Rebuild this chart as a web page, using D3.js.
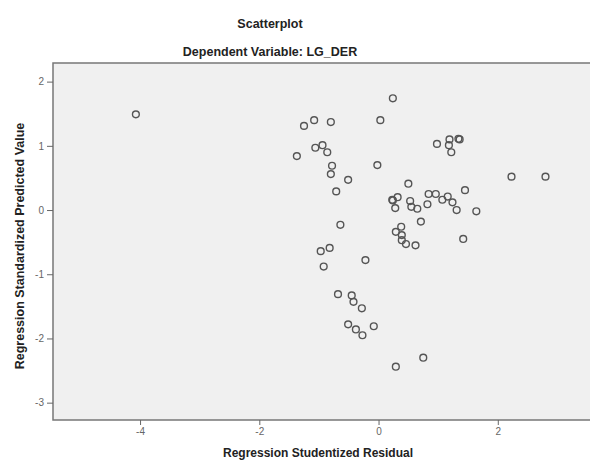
<!DOCTYPE html>
<html>
<head>
<meta charset="utf-8">
<script src="https://cdn.jsdelivr.net/npm/d3@7"></script>
<style>
  html, body { margin: 0; padding: 0; background: #fff; }
  svg { display: block; }
</style>
</head>
<body>
<div id="chart"></div>
<script>
const title = "Scatterplot";
const subtitle = "Dependent Variable: LG_DER";
const xLabel = "Regression Studentized Residual";
const yLabel = "Regression Standardized Predicted Value";
const xTicks = [-4, -2, 0, 2];
const yTicks = [2, 1, 0, -1, -2, -3];

// Regression Studentized Residual
const residuals = [
  -4.07, -1.25, -1.08, -0.80, 0.03, 0.24, -1.37, -1.06, -0.94, -0.86,
  -0.78, -0.80, -0.51, -0.71, -0.02, 0.98, 1.19, 1.34, 1.36, 1.18,
  1.22, 2.23, 2.80, 0.50, 1.45, 0.23, 0.24, 0.32, 0.28, 0.53,
  0.55, 0.65, 0.82, 0.84, 0.96, 1.07, 1.16, 1.24, 1.31, 1.64,
  0.71, -0.64, 0.38, 0.29, 0.39, 0.39, 0.46, 0.62, 1.42, -0.97,
  -0.82, -0.92, -0.22, -0.68, -0.45, -0.42, -0.28, -0.51, -0.38, -0.27,
  -0.08, 0.75, 0.29
];
// Regression Standardized Predicted Value
const predicted = [
  1.49, 1.31, 1.40, 1.37, 1.40, 1.74, 0.84, 0.97, 1.01, 0.90,
  0.69, 0.56, 0.47, 0.29, 0.70, 1.03, 1.10, 1.11, 1.10, 1.01,
  0.90, 0.52, 0.52, 0.41, 0.31, 0.16, 0.15, 0.20, 0.03, 0.14,
  0.05, 0.02, 0.09, 0.25, 0.25, 0.16, 0.21, 0.12, 0.00, -0.02,
  -0.18, -0.23, -0.26, -0.34, -0.39, -0.47, -0.53, -0.55, -0.45, -0.64,
  -0.59, -0.88, -0.78, -1.31, -1.33, -1.43, -1.53, -1.78, -1.86, -1.95,
  -1.81, -2.30, -2.44
];

const W = 590, H = 461;
const plot = { left: 53, top: 63, right: 592, bottom: 420 };

const svg = d3.select("#chart").append("svg")
  .attr("width", W).attr("height", H)
  .style("font-family", "'Liberation Sans', Arial, sans-serif");

const x = d3.scaleLinear().domain([-5.46, 3.58]).range([plot.left, plot.right]);
const y = d3.scaleLinear().domain([-3.27, 2.29]).range([plot.bottom, plot.top]);

// plot background
svg.append("rect")
  .attr("x", plot.left).attr("y", plot.top)
  .attr("width", plot.right - plot.left).attr("height", plot.bottom - plot.top)
  .attr("fill", "#f0f0f0").attr("stroke", "#777").attr("stroke-width", 1.5);

const fmt = d => String(d);

// axes
const xAxis = svg.append("g")
  .attr("transform", `translate(0,${plot.bottom})`)
  .call(d3.axisBottom(x).tickValues(xTicks).tickSize(5).tickPadding(3).tickFormat(fmt));
xAxis.select(".domain").remove();
xAxis.selectAll("line").attr("stroke", "#666");
xAxis.selectAll("text").attr("fill", "#666").style("font-size", "10px");

const yAxis = svg.append("g")
  .attr("transform", `translate(${plot.left},0)`)
  .call(d3.axisLeft(y).tickValues(yTicks).tickSize(6).tickPadding(3).tickFormat(fmt));
yAxis.select(".domain").remove();
yAxis.selectAll("line").attr("stroke", "#666");
yAxis.selectAll("text").attr("fill", "#666").style("font-size", "10px");

// points
const pts = residuals.map((r, i) => ({ r, p: predicted[i] }));
svg.append("g").selectAll("circle").data(pts).join("circle")
  .attr("cx", d => x(d.r)).attr("cy", d => y(d.p))
  .attr("r", 3.4)
  .attr("fill", "none").attr("stroke", "#555").attr("stroke-width", 1.4);

// titles
svg.append("text").attr("x", 270).attr("y", 28).attr("text-anchor", "middle")
  .style("font-size", "12.5px").style("font-weight", "bold").attr("fill", "#222").text(title);
svg.append("text").attr("x", 270).attr("y", 56).attr("text-anchor", "middle")
  .style("font-size", "12.5px").style("font-weight", "bold").attr("fill", "#222").text(subtitle);

svg.append("text").attr("x", 318).attr("y", 457).attr("text-anchor", "middle")
  .style("font-size", "12px").style("font-weight", "bold").attr("fill", "#222").text(xLabel);

svg.append("text")
  .attr("transform", "translate(24,246) rotate(-90)")
  .attr("text-anchor", "middle")
  .style("font-size", "12.5px").style("font-weight", "bold").attr("fill", "#222").text(yLabel);
</script>
</body>
</html>
